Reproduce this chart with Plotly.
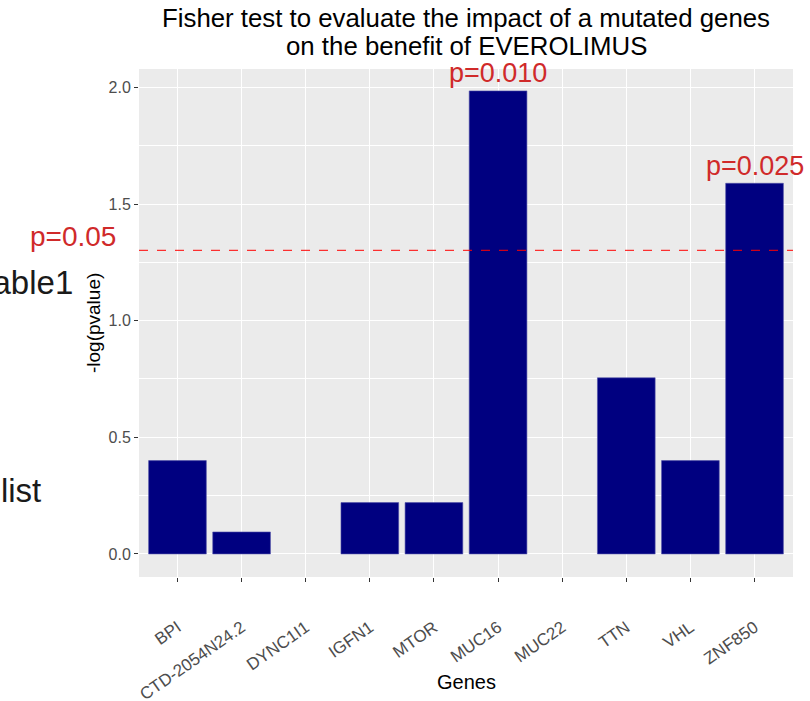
import plotly.graph_objects as go

genes = ["BPI", "CTD-2054N24.2", "DYNC1I1", "IGFN1", "MTOR", "MUC16", "MUC22", "TTN", "VHL", "ZNF850"]
neglogp = [0.40, 0.094, 0.0, 0.22, 0.22, 1.985, 0.0, 0.755, 0.40, 1.589]
threshold = 1.301
threshold_label = "p=0.05"
label_genes = ["MUC16", "ZNF850"]
label_texts = ["p=0.010", "p=0.025"]
y_ticks = [0.0, 0.5, 1.0, 1.5, 2.0]
y_ticktext = ["0.0", "0.5", "1.0", "1.5", "2.0"]
y_minor = [0.25, 0.75, 1.25, 1.75]
title_lines = ["Fisher test to evaluate the impact of a mutated genes", "on the benefit of EVEROLIMUS"]

FONT = "Liberation Sans, Arial, sans-serif"
RED_TXT = "#D02A2A"

fig = go.Figure()
fig.add_trace(go.Bar(
    x=genes, y=neglogp, width=0.9,
    marker=dict(color="#000080",
                line=dict(color="#5050a8", width=[0.6 if v > 0 else 0 for v in neglogp])),
    showlegend=False,
))

fig.add_shape(type="line", xref="paper", x0=0, x1=1, yref="y", y0=threshold, y1=threshold,
              line=dict(color="rgba(255,0,0,0.8)", width=1.3, dash="dash"))

annotations = []
for g, t in zip(label_genes, label_texts):
    v = neglogp[genes.index(g)]
    annotations.append(dict(x=g, y=v + 0.075, xref="x", yref="y", text=t, showarrow=False,
                            font=dict(family=FONT, size=27, color=RED_TXT), yanchor="middle"))
annotations.append(dict(x=-0.032, y=threshold + 0.06, xref="paper", yref="y", text=threshold_label,
                        showarrow=False, xanchor="right", yanchor="middle",
                        font=dict(family=FONT, size=28, color=RED_TXT)))
annotations.append(dict(x=-0.0985, y=0.5807, xref="paper", yref="paper", text="Table1",
                        showarrow=False, xanchor="right", yanchor="middle",
                        font=dict(family=FONT, size=33, color="#1a1a1a")))
annotations.append(dict(x=-0.1468, y=0.171, xref="paper", yref="paper", text="Gene list",
                        showarrow=False, xanchor="right", yanchor="middle",
                        font=dict(family=FONT, size=33, color="#1a1a1a")))
annotations.append(dict(x=0.5, y=-0.2067, xref="paper", yref="paper", text="Genes",
                        showarrow=False, xanchor="center", yanchor="middle",
                        font=dict(family=FONT, size=20, color="black")))
annotations.append(dict(x=-0.0703, y=0.5, xref="paper", yref="paper", text="-log(pvalue)",
                        showarrow=False, xanchor="center", yanchor="middle", textangle=-90,
                        font=dict(family=FONT, size=19, color="black")))
for line, ypx in zip(title_lines, [18.5, 45.5]):
    annotations.append(dict(x=0.5, y=1 + (69 - ypx) / 508, xref="paper", yref="paper", text=line,
                            showarrow=False, xanchor="center", yanchor="middle",
                            font=dict(family=FONT, size=25.8, color="black")))

fig.update_layout(
    width=810, height=701,
    margin=dict(l=139, r=17, t=69, b=124),
    paper_bgcolor="white", plot_bgcolor="#EBEBEB",
    font=dict(family=FONT),
    annotations=annotations,
    bargap=0.1,
)
fig.update_xaxes(
    type="category", categoryorder="array", categoryarray=genes, range=[-0.6, 9.6],
    showgrid=True, gridcolor="white", gridwidth=1.1, zeroline=False, showline=False,
    ticks="outside", ticklen=4, tickcolor="#333333", tickwidth=1,
    tickangle=-35, tickfont=dict(family=FONT, size=17, color="#4D4D4D"),
    ticklabelstandoff=29, automargin=False,
)
fig.update_yaxes(
    range=[-0.099, 2.079], tickvals=y_ticks, ticktext=y_ticktext,
    showgrid=True, gridcolor="white", gridwidth=1.1, zeroline=False, showline=False,
    ticks="outside", ticklen=4, tickcolor="#333333", tickwidth=1,
    tickfont=dict(family=FONT, size=16, color="#4D4D4D"),
    minor=dict(tickvals=y_minor, showgrid=True, gridcolor="white", gridwidth=0.5, ticks=""),
    automargin=False,
)

fig.write_html("out.html")
